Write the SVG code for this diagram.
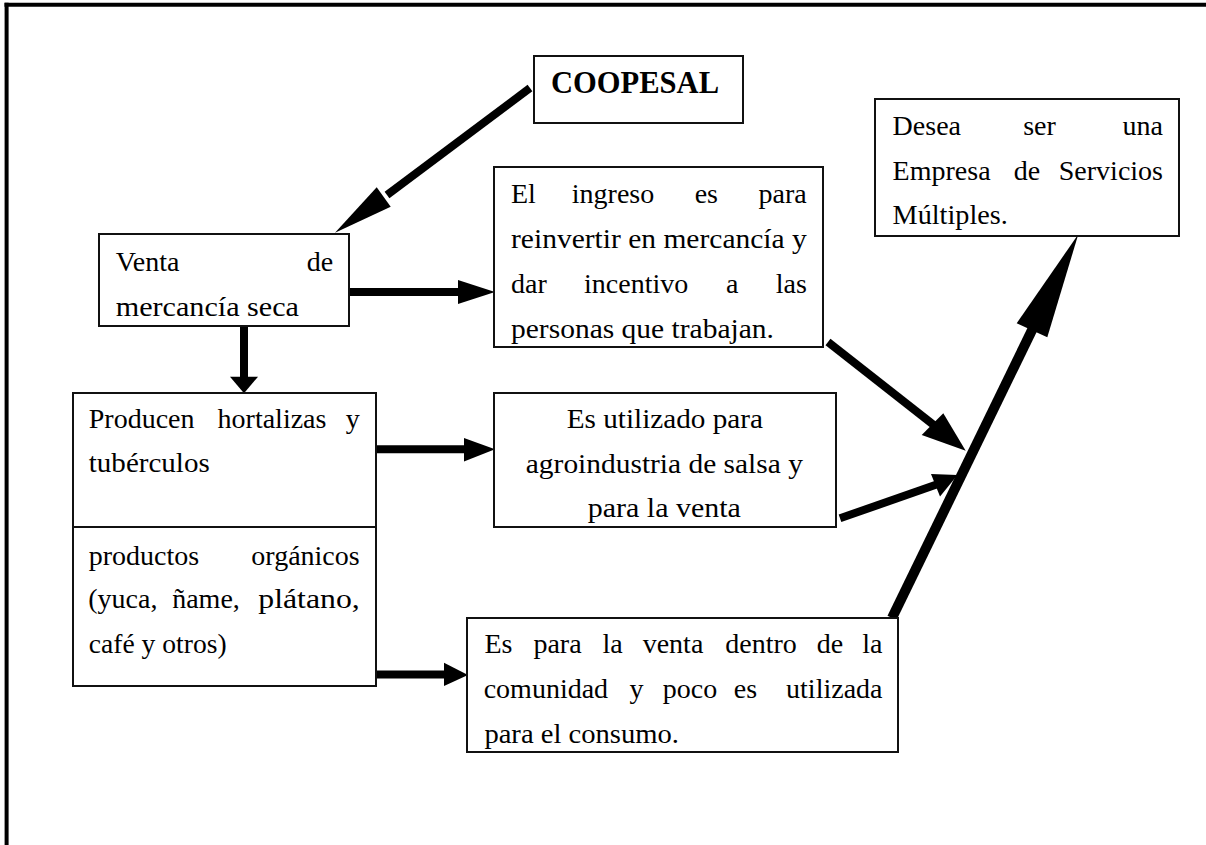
<svg xmlns="http://www.w3.org/2000/svg" width="1206" height="845" viewBox="0 0 1206 845">
<style>
.box{fill:#fff;stroke:#111;stroke-width:2}
.t{font-family:"Liberation Serif","Times New Roman",serif;font-size:28px;fill:#000}
.m{text-anchor:middle}
.e{text-anchor:end}
.b{font-family:"Liberation Serif","Times New Roman",serif;font-size:31px;font-weight:bold;fill:#000}
.ln{stroke:#000;stroke-width:8;fill:none}
.lnb{stroke:#000;stroke-width:10;fill:none}
.hd{fill:#000;stroke:none}
.frame{stroke:#000;stroke-width:4;fill:none}
</style>
<rect width="1206" height="845" fill="#fff"/>
<g id="frame">
<line class="frame" x1="4.5" y1="4.7" x2="1206" y2="4.7"/>
<line class="frame" x1="6.6" y1="2.7" x2="6.6" y2="845"/>
</g>

<g id="connectors">
<line class="ln" x1="530" y1="88" x2="387" y2="195"/>
<polygon class="hd" points="335,232.7 376.7,187.3 390.7,206.7"/>
<line class="ln" x1="349" y1="292" x2="462" y2="292"/>
<polygon class="hd" points="495,292 458,280 458,304"/>
<line class="ln" x1="244" y1="326" x2="244" y2="380"/>
<polygon class="hd" points="244,393.3 230,376.7 258,376.7"/>
<line class="ln" x1="376" y1="449.3" x2="468" y2="449.3"/>
<polygon class="hd" points="495,449.3 464,438 464,461.5"/>
<line class="ln" x1="376" y1="674.5" x2="448" y2="674.5"/>
<polygon class="hd" points="468,675 444,662.7 444,686"/>
<line class="ln" x1="828" y1="342" x2="935" y2="426"/>
<polygon class="hd" points="965.7,450.7 921.7,435 943.3,413.3"/>
<line class="ln" x1="840" y1="518.3" x2="938" y2="484"/>
<polygon class="hd" points="957.5,475 931,474 940,496.5"/>
<line class="lnb" x1="892" y1="618" x2="1034" y2="326"/>
<polygon class="hd" points="1078.3,234.3 1016.7,323.3 1047.3,337.3"/>
</g>

<g id="coopesal">
<rect class="box" x="534" y="56" width="209" height="67"/>
<text class="b" x="551" y="93" textLength="168" lengthAdjust="spacingAndGlyphs">COOPESAL</text>
</g>

<g id="desea">
<rect class="box" x="875" y="99" width="304" height="137"/>
<text class="t" x="892.6" y="135">Desea</text>
<text class="t m" x="1039.5" y="135">ser</text>
<text class="t e" x="1163" y="135">una</text>
<text class="t" x="892.6" y="180">Empresa</text>
<text class="t m" x="1027" y="180">de</text>
<text class="t e" x="1163" y="180">Servicios</text>
<text class="t" x="892.6" y="224" textLength="115.2" lengthAdjust="spacingAndGlyphs">Múltiples.</text>
</g>

<g id="ingreso">
<rect class="box" x="494" y="167" width="329" height="180"/>
<text class="t" x="511" y="203.3">El</text>
<text class="t m" x="613" y="203.3">ingreso</text>
<text class="t m" x="706.3" y="203.3">es</text>
<text class="t e" x="806.8" y="203.3">para</text>
<text class="t" x="511" y="248.3" textLength="295.8" lengthAdjust="spacingAndGlyphs">reinvertir en mercancía y</text>
<text class="t" x="511" y="293.3">dar</text>
<text class="t m" x="636.2" y="293.3">incentivo</text>
<text class="t m" x="732.3" y="293.3">a</text>
<text class="t e" x="806.8" y="293.3">las</text>
<text class="t" x="511" y="338.3" textLength="263" lengthAdjust="spacingAndGlyphs">personas que trabajan.</text>
</g>

<g id="venta">
<rect class="box" x="99" y="234" width="250" height="92"/>
<text class="t" x="115.7" y="270.7">Venta</text>
<text class="t e" x="333.3" y="270.7">de</text>
<text class="t" x="115.7" y="316" textLength="183.3" lengthAdjust="spacingAndGlyphs">mercancía seca</text>
</g>

<g id="producen">
<rect class="box" x="73" y="393" width="303" height="134"/>
<text class="t" x="88.8" y="428.3">Producen</text>
<text class="t m" x="272" y="428.3">hortalizas</text>
<text class="t e" x="359.7" y="428.3">y</text>
<text class="t" x="88.8" y="471.7" textLength="120.9" lengthAdjust="spacingAndGlyphs">tubérculos</text>
</g>

<g id="organicos">
<rect class="box" x="73" y="527" width="303" height="159"/>
<text class="t" x="88.8" y="565">productos</text>
<text class="t e" x="359.7" y="565">orgánicos</text>
<text class="t" x="88.3" y="608.3">(yuca,</text>
<text class="t m" x="206" y="608.3">ñame,</text>
<text class="t" x="258.3" y="608.3" textLength="101.5" lengthAdjust="spacingAndGlyphs">plátano,</text>
<text class="t" x="88.8" y="653.3" textLength="137.8" lengthAdjust="spacingAndGlyphs">café y otros)</text>
</g>

<g id="utilizado">
<rect class="box" x="494" y="393" width="342" height="134"/>
<text class="t" x="566.7" y="427.7" textLength="196.3" lengthAdjust="spacingAndGlyphs">Es utilizado para</text>
<text class="t" x="525.8" y="472.7" textLength="277.1" lengthAdjust="spacingAndGlyphs">agroindustria de salsa y</text>
<text class="t" x="587.8" y="517.3" textLength="153.1" lengthAdjust="spacingAndGlyphs">para la venta</text>
</g>

<g id="venta-comunidad">
<rect class="box" x="467" y="618" width="431" height="134"/>
<text class="t" x="484.4" y="653.3">Es</text>
<text class="t m" x="557.5" y="653.3">para</text>
<text class="t m" x="612.5" y="653.3">la</text>
<text class="t m" x="673" y="653.3">venta</text>
<text class="t m" x="761" y="653.3">dentro</text>
<text class="t m" x="830" y="653.3">de</text>
<text class="t e" x="882.5" y="653.3">la</text>
<text class="t" x="483.7" y="698.3">comunidad</text>
<text class="t m" x="636.5" y="698.3">y</text>
<text class="t m" x="690" y="698.3">poco</text>
<text class="t m" x="745.5" y="698.3">es</text>
<text class="t e" x="882.5" y="698.3">utilizada</text>
<text class="t" x="484.4" y="742.7" textLength="194.5" lengthAdjust="spacingAndGlyphs">para el consumo.</text>
</g>
</svg>
